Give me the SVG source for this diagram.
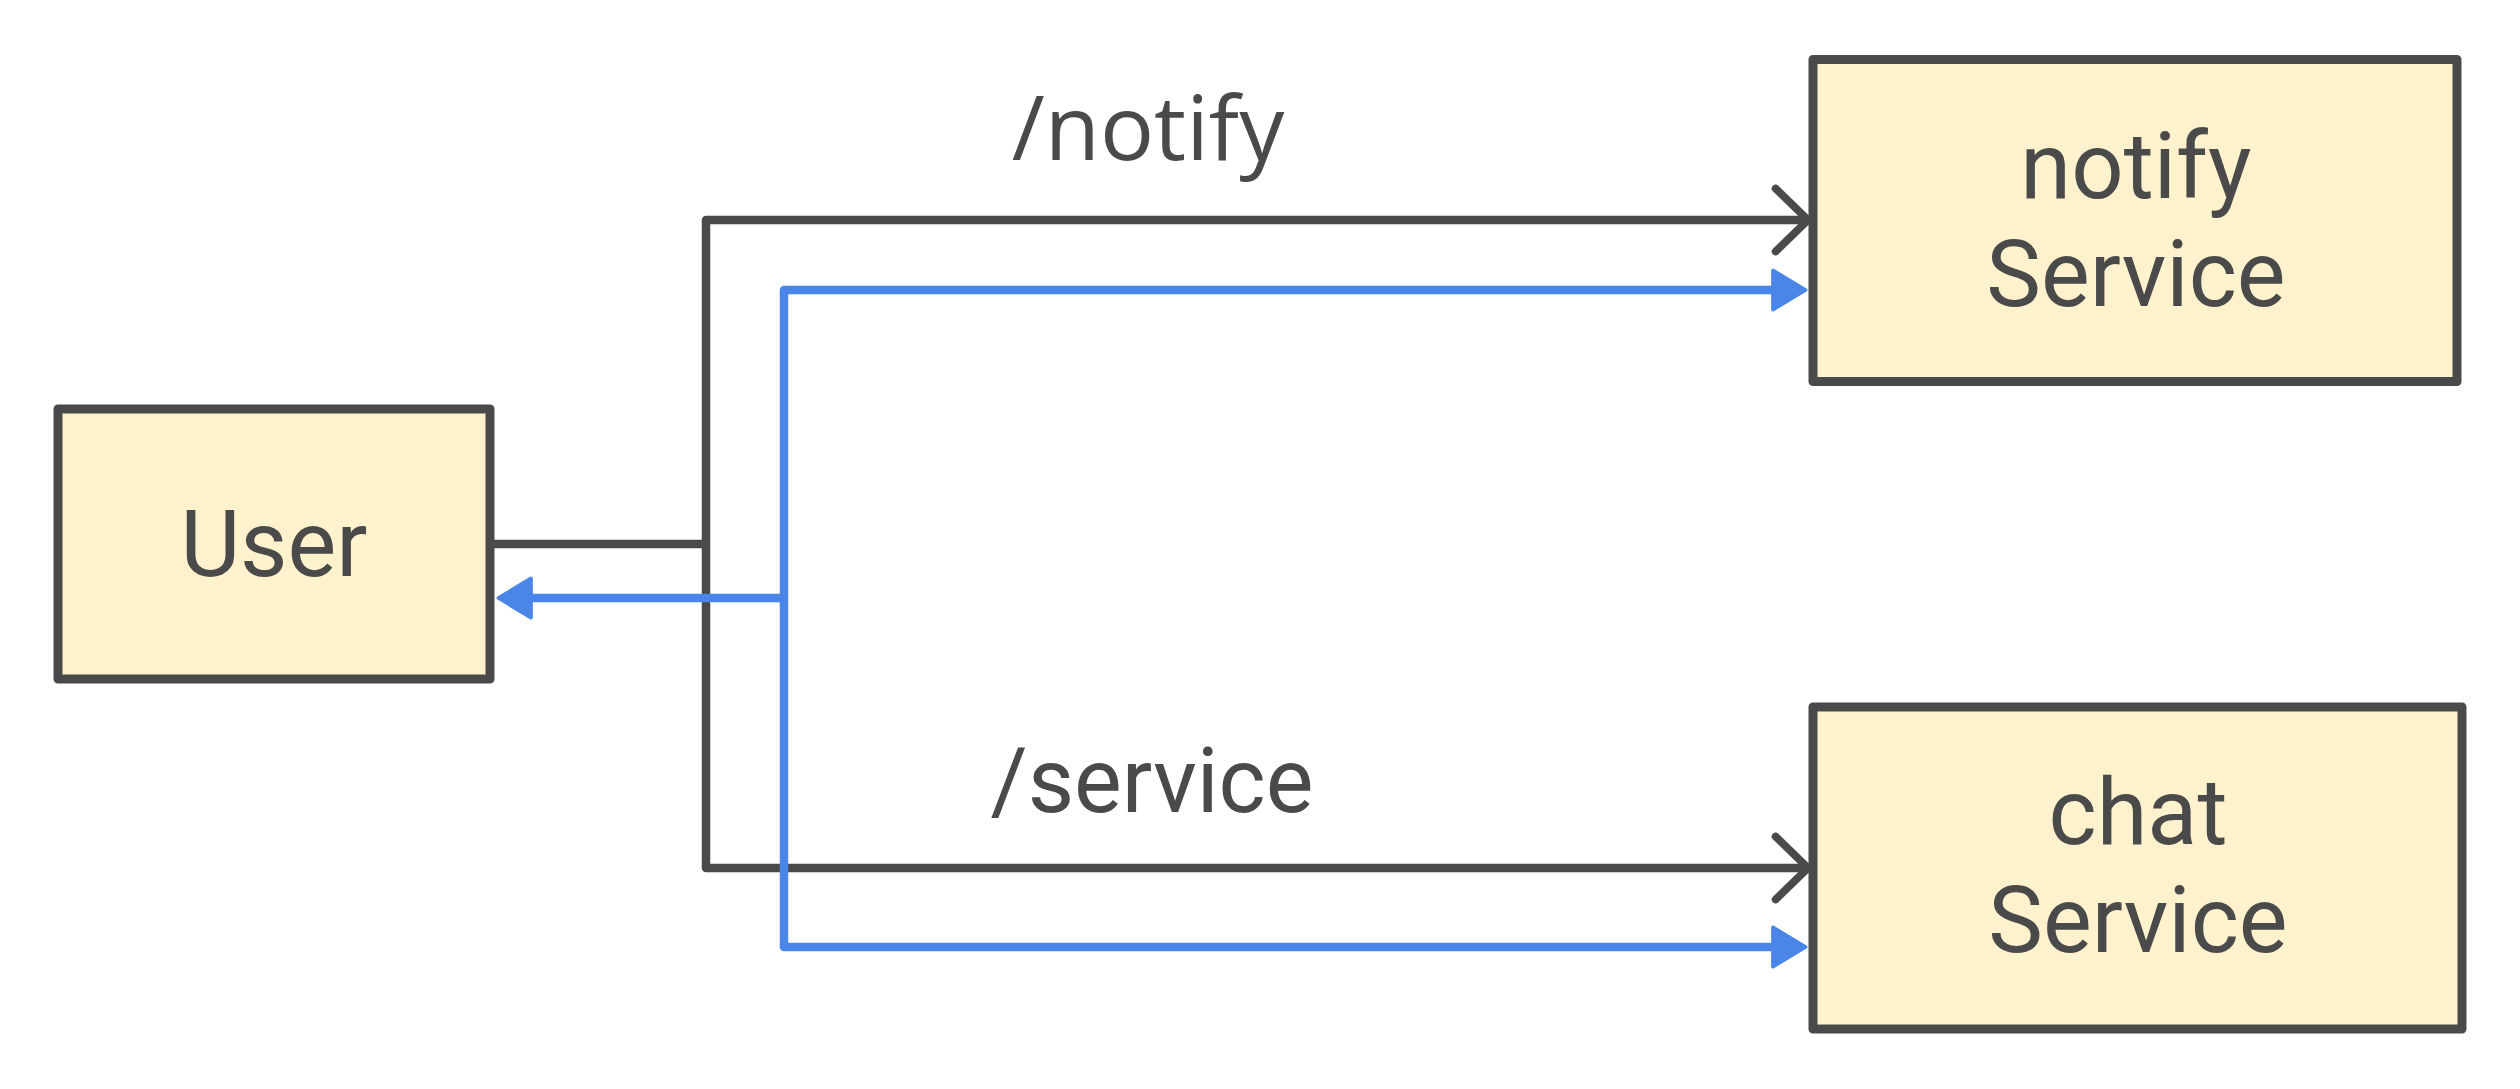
<svg xmlns="http://www.w3.org/2000/svg" width="2520" height="1089" viewBox="0 0 2520 1089">
<style>
.box{fill:#fff2cc;stroke:#4a4a4a;stroke-width:9;stroke-linejoin:round}
.lbl{font-family:Roboto,"Liberation Sans",sans-serif;font-size:92px;fill:#4a4a4a;text-anchor:middle}
.elbl{font-family:Roboto,"Liberation Sans",sans-serif;font-size:90px;fill:#4a4a4a;text-anchor:middle}
.dark{fill:none;stroke:#4a4a4a;stroke-width:8.5;stroke-linejoin:round;stroke-linecap:butt}
.blue{fill:none;stroke:#4a86e8;stroke-width:8.5;stroke-linejoin:round;stroke-linecap:butt}
</style>
<defs>
<marker id="open" markerUnits="userSpaceOnUse" markerWidth="44" markerHeight="74" viewBox="-5 -5 46 80" refX="35" refY="35" orient="auto-start-reverse" overflow="visible">
<path d="M0,1 L35,35 L0,69" fill="none" stroke="#4a4a4a" stroke-width="8.5" stroke-linecap="round" stroke-linejoin="round"/>
</marker>
<marker id="tri" markerUnits="userSpaceOnUse" markerWidth="40" markerHeight="46" viewBox="-3 -3 43 48" refX="0" refY="21" orient="auto-start-reverse" overflow="visible">
<path d="M0,0 L35,21 L0,42 Z" fill="#4a86e8" stroke="#4a86e8" stroke-width="4" stroke-linejoin="round"/>
</marker>
</defs>
<rect width="2520" height="1089" fill="#ffffff"/>
<g id="connectors">
<path class="dark" d="M490,544 H706"/>
<path class="dark" d="M1808,220 H706 V868 H1808" marker-start="url(#open)" marker-end="url(#open)"/>
<text class="elbl" x="1148" y="160" style="font-family:'Open Sans',Roboto,sans-serif">/notify</text>
<text class="elbl" x="1152" y="812">/service</text>
<path class="blue" d="M1773,290 H784 V947 H1773" marker-start="url(#tri)" marker-end="url(#tri)"/>
<path class="blue" d="M784,598 H531" marker-end="url(#tri)"/>
</g>
<g id="user">
<rect class="box" x="58" y="409" width="432" height="270"/>
<text class="lbl" x="274" y="576">User</text>
</g>
<g id="notify-service">
<rect class="box" x="1813" y="59.5" width="644" height="322"/>
<text class="lbl" x="2136" y="198">notify</text>
<text class="lbl" x="2136" y="306">Service</text>
</g>
<g id="chat-service">
<rect class="box" x="1813" y="707" width="649" height="322"/>
<text class="lbl" x="2138" y="844">chat</text>
<text class="lbl" x="2138" y="952">Service</text>
</g>
</svg>
